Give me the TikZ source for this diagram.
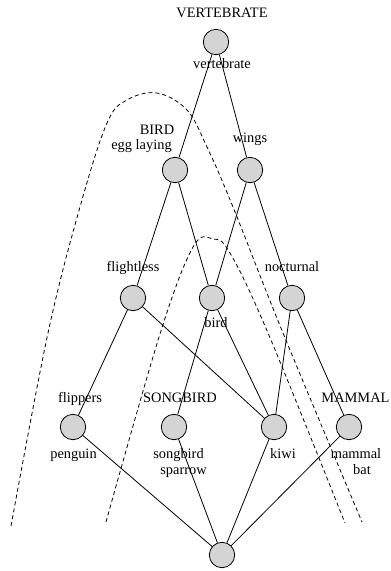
\documentclass[tikz,border=0pt]{standalone}
\usepackage{fontspec}
\setmainfont{Liberation Serif}
\begin{document}
\begin{tikzpicture}[x=1pt,y=-1pt,
  vnode/.style={circle, draw, fill=black!17, minimum size=25.4pt, inner sep=0pt, line width=0.8pt},
  lbl/.style={font=\fontsize{14.4}{16}\selectfont, inner sep=0pt, anchor=base},
  edge/.style={line width=0.8pt},
  cut/.style={line width=0.8pt, dash pattern=on 4pt off 3pt}]
\useasboundingbox (0,0) rectangle (391,571);

% dashed cuts
\draw[cut] plot[smooth, tension=0.6] coordinates {(11,526) (48,333) (80,207) (107,123) (127,100) (157,93) (187,110) (207,147) (233,207) (283,333) (362,522)};
\draw[cut] plot[smooth, tension=0.6] coordinates {(106,522) (160,334) (193,247) (213,239) (230,253) (268,333) (345,523)};

% nodes
\node[vnode] (top) at (216,42) {};
\node[vnode] (egg) at (175,170) {};
\node[vnode] (wings) at (250,170) {};
\node[vnode] (flight) at (133,298) {};
\node[vnode] (bird) at (212,298) {};
\node[vnode] (noct) at (292,298) {};
\node[vnode] (peng) at (73,427) {};
\node[vnode] (song) at (174,427) {};
\node[vnode] (kiwi) at (274,427) {};
\node[vnode] (mamm) at (349,427) {};
\node[vnode] (bot) at (222,555) {};

% edges
\draw[edge] (top) -- (egg);
\draw[edge] (top) -- (wings);
\draw[edge] (egg) -- (flight);
\draw[edge] (egg) -- (bird);
\draw[edge] (wings) -- (bird);
\draw[edge] (wings) -- (noct);
\draw[edge] (flight) -- (peng);
\draw[edge] (flight) -- (kiwi);
\draw[edge] (bird) -- (song);
\draw[edge] (bird) -- (kiwi);
\draw[edge] (noct) -- (kiwi);
\draw[edge] (noct) -- (mamm);
\draw[edge] (peng) -- (bot);
\draw[edge] (song) -- (bot);
\draw[edge] (kiwi) -- (bot);
\draw[edge] (mamm) -- (bot);

% labels
\node[lbl] (l1) at (222,17) {VERTEBRATE};
\node[lbl] (l2) at (222,68) {vertebrate};
\node[lbl] (l3) at (157,134) {BIRD};
\node[lbl] (l4) at (141.5,149) {egg laying};
\node[lbl] (l5) at (250,142) {wings};
\node[lbl] (l6) at (133,271) {flightless};
\node[lbl] (l7) at (292,271) {nocturnal};
\node[lbl] (l8) at (216,327) {bird};
\node[lbl] (l9) at (80,402) {flippers};
\node[lbl] (l10) at (180,402) {SONGBIRD};
\node[lbl] (l11) at (355.5,402) {MAMMAL};
\node[lbl] (l12) at (73.5,458) {penguin};
\node[lbl] (l13) at (178.5,458) {songbird};
\node[lbl] (l14) at (183.5,474) {sparrow};
\node[lbl] (l15) at (283,458) {kiwi};
\node[lbl] (l16) at (356,458) {mammal};
\node[lbl] (l17) at (362,474) {bat};
\end{tikzpicture}
\end{document}
